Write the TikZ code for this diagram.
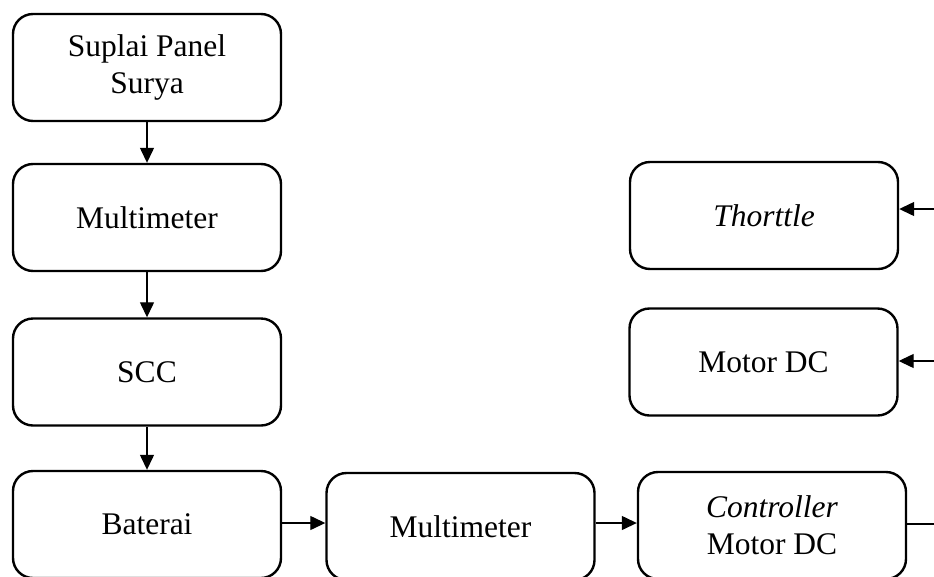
\documentclass[tikz,border=0pt]{standalone}
\usepackage{fontspec}
\setmainfont{Liberation Serif}
\usetikzlibrary{arrows.meta}

\begin{document}
\begin{tikzpicture}[x=1pt,y=-1pt,
  block/.style={draw, line width=2.4pt, rounded corners=20pt, minimum width=268pt,
    minimum height=107pt, inner sep=0pt, align=center,
    font=\fontsize{31.5}{37}\selectfont},
  arr/.style={line width=1.3pt, -{Triangle[length=15pt,width=14pt]}},
  wire/.style={line width=1.3pt}]
  \useasboundingbox (0,0) rectangle (934,576);
  \clip (0,0) rectangle (934,576);

  % left column
  \node[block] (s1) at (147,67.5) {Suplai Panel\\Surya};
  \node[block] (m1) at (147,217.5) {Multimeter};
  \node[block] (scc) at (147,372) {SCC};
  \node[block] (bat) at (147,524.5) {Baterai};

  % bottom row
  \node[block] (m2) at (460.5,526.5) {Multimeter};
  \node[block] (ctrl) at (772,525.5) {\textit{Controller}\\Motor DC};

  % right column
  \node[block] (thr) at (764,215.5) {\textit{Thorttle}};
  \node[block] (mdc) at (763.5,362) {Motor DC};

  % off-page ends of the right-hand wiring
  \coordinate (e1) at (934,209);
  \coordinate (e2) at (934,361);
  \coordinate (e3) at (934,524);

  % connectors
  \draw[arr] (s1) -- (m1);
  \draw[arr] (m1) -- (scc);
  \draw[arr] (scc) -- (bat);
  \draw[arr] (bat.east |- 0,523) -- (m2.west |- 0,523);
  \draw[arr] (m2.east |- 0,523) -- (ctrl.west |- 0,523);
  \draw[arr] (e1) -- (thr.east |- e1);
  \draw[arr] (e2) -- (mdc.east |- e2);
  \draw[wire] (ctrl.east |- e3) -- (e3);
\end{tikzpicture}
\end{document}
